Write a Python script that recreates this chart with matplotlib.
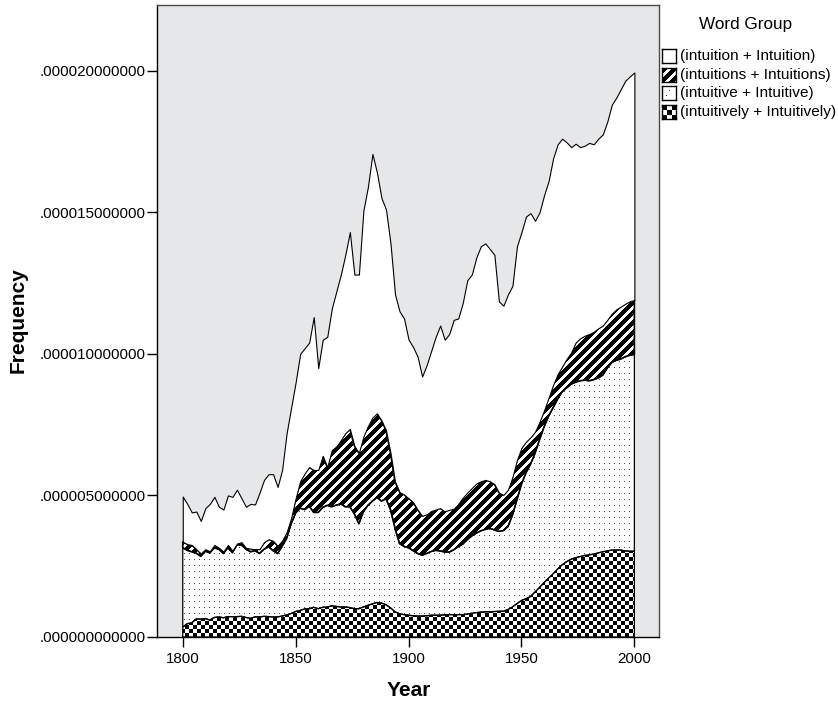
import numpy as np
import matplotlib
matplotlib.use("Agg")
import matplotlib.pyplot as plt
from matplotlib.ticker import FuncFormatter, FixedLocator

plt.rcParams['font.family'] = ['Liberation Sans', 'DejaVu Sans']

# ---- data (values in units of 1e-6) ----
years = list(range(1800, 2001, 2))

intuitively = [0.35, 0.47, 0.50, 0.64, 0.63, 0.65, 0.60, 0.69, 0.71, 0.68,
               0.72, 0.72, 0.72, 0.73, 0.69, 0.66, 0.71, 0.71, 0.73, 0.72,
               0.71, 0.71, 0.74, 0.78, 0.83, 0.90, 0.94, 0.99, 1.00, 1.05,
               1.00, 1.05, 1.06, 1.10, 1.08, 1.06, 1.06, 1.04, 1.00, 1.00,
               1.06, 1.12, 1.17, 1.22, 1.20, 1.14, 1.03, 0.89, 0.82, 0.79,
               0.77, 0.75, 0.74, 0.74, 0.75, 0.77, 0.77, 0.77, 0.78, 0.79,
               0.79, 0.79, 0.79, 0.81, 0.84, 0.86, 0.88, 0.89, 0.89, 0.90,
               0.91, 0.91, 0.97, 1.06, 1.18, 1.29, 1.35, 1.43, 1.59, 1.75,
               1.92, 2.08, 2.23, 2.40, 2.55, 2.66, 2.75, 2.80, 2.84, 2.88,
               2.90, 2.93, 2.97, 3.01, 3.04, 3.07, 3.07, 3.07, 3.04, 3.03,
               3.03]

intuitive = [2.80, 2.59, 2.51, 2.32, 2.22, 2.38, 2.37, 2.46, 2.39, 2.27,
             2.43, 2.26, 2.53, 2.52, 2.41, 2.35, 2.34, 2.24, 2.37, 2.47,
             2.34, 2.24, 2.46, 2.70, 3.17, 3.48, 3.61, 3.51, 3.62, 3.35,
             3.40, 3.53, 3.59, 3.50, 3.58, 3.64, 3.54, 3.56, 3.35, 3.00,
             3.37, 3.53, 3.63, 3.71, 3.60, 3.74, 3.47, 2.95, 2.48, 2.41,
             2.38, 2.30, 2.21, 2.15, 2.20, 2.25, 2.29, 2.27, 2.22, 2.21,
             2.29, 2.40, 2.49, 2.63, 2.73, 2.81, 2.87, 2.91, 2.95, 2.88,
             2.82, 2.85, 2.93, 3.24, 3.67, 4.11, 4.45, 4.67, 4.90, 5.22,
             5.50, 5.72, 5.87, 6.00, 6.11, 6.14, 6.18, 6.20, 6.21, 6.19,
             6.15, 6.16, 6.18, 6.24, 6.46, 6.63, 6.70, 6.75, 6.86, 6.92,
             6.95]

intuitions = [0.21, 0.22, 0.24, 0.14, 0.10, 0.07, 0.06, 0.10, 0.05, 0.07,
              0.10, 0.07, 0.05, 0.10, 0.05, 0.11, 0.05, 0.15, 0.25, 0.26,
              0.35, 0.27, 0.20, 0.22, 0.20, 0.52, 0.95, 1.28, 1.38, 1.50,
              1.50, 1.82, 1.35, 2.00, 2.07, 2.25, 2.60, 2.75, 2.40, 2.50,
              2.65, 2.80, 2.95, 2.97, 2.85, 2.42, 2.00, 1.65, 1.82, 1.83,
              1.75, 1.71, 1.55, 1.39, 1.38, 1.43, 1.44, 1.51, 1.44, 1.49,
              1.45, 1.51, 1.64, 1.66, 1.69, 1.75, 1.75, 1.75, 1.66, 1.62,
              1.37, 1.26, 1.30, 1.35, 1.40, 1.28, 1.10, 0.95, 0.76, 0.63,
              0.58, 0.65, 0.80, 0.88, 0.89, 1.02, 1.12, 1.40, 1.50, 1.57,
              1.65, 1.69, 1.75, 1.75, 1.70, 1.72, 1.80, 1.85, 1.87, 1.91,
              1.92]

intuition = [1.60, 1.42, 1.15, 1.33, 1.15, 1.45, 1.67, 1.70, 1.45, 1.48,
             1.75, 1.90, 1.90, 1.55, 1.45, 1.58, 1.58, 2.00, 2.20, 2.30,
             2.35, 2.08, 2.50, 3.50, 3.90, 4.10, 4.50, 4.42, 4.40, 5.40,
             3.60, 4.10, 4.60, 5.00, 5.47, 5.85, 6.30, 6.95, 6.05, 6.30,
             7.98, 8.45, 9.31, 8.50, 7.85, 7.80, 7.40, 6.61, 6.38, 6.22,
             5.60, 5.48, 5.40, 4.92, 5.27, 5.65, 6.10, 6.45, 6.06, 6.21,
             6.67, 6.55, 6.88, 7.50, 7.54, 7.98, 8.30, 8.35, 8.20, 8.10,
             6.75, 6.68, 6.90, 6.75, 7.55, 7.62, 7.95, 7.92, 7.45, 7.40,
             7.60, 7.65, 8.00, 8.12, 8.05, 7.65, 7.25, 7.02, 6.75, 6.71,
             6.75, 6.62, 6.70, 6.75, 7.00, 7.38, 7.48, 7.68, 7.88, 7.94,
             8.04]

labels = ["(intuition + Intuition)", "(intuitions + Intuitions)",
          "(intuitive + Intuitive)", "(intuitively + Intuitively)"]
yticks = [0, 5e-6, 10e-6, 15e-6, 20e-6]
xticks = [1800, 1850, 1900, 1950, 2000]

scale = 1e-6
yr = np.array(years)
s_ly = np.array(intuitively) * scale
s_ve = np.array(intuitive) * scale
s_ns = np.array(intuitions) * scale
s_n = np.array(intuition) * scale

# ---- figure ----
W_px, H_px = 838, 702
fig = plt.figure(figsize=(W_px / 100, H_px / 100), dpi=100)
ax_l, ax_r, ax_t, ax_b = 157, 659, 5, 637
ax = fig.add_axes([ax_l / W_px, 1 - ax_b / H_px, (ax_r - ax_l) / W_px, (ax_b - ax_t) / H_px])
ax.set_facecolor('#e6e7e9')

# ---- patterns (pixel arrays) ----
aw, ah = ax_r - ax_l, ax_b - ax_t
ii, jj = np.mgrid[0:ah, 0:aw]
checker = (((ii // 4) + (jj // 4)) % 2).astype(float)
stripes = np.where(((ii + jj) % 10) < 6, 0.0, 1.0)
dots = np.ones((ah, aw))
dots[(ii % 6 == 2) & (jj % 5 == 2)] = 0.3

polys = ax.stackplot(yr, s_ly, s_ve, s_ns, s_n,
                     colors=['none', 'none', 'none', 'white'],
                     edgecolor='black', linewidth=0.9, zorder=3)
polys[2].set_linewidth(1.2)
polys[3].set_linewidth(0.8)

for coll, pat in zip(polys[:3], [checker, dots, stripes]):
    im = ax.imshow(pat, cmap='gray', vmin=0, vmax=1, extent=[0, 1, 0, 1],
                   transform=ax.transAxes, interpolation='nearest',
                   aspect='auto', zorder=2)
    im.set_clip_path(coll.get_paths()[0], transform=ax.transData)

ax.set_xlim(1788.6, 2010.9)
ax.set_ylim(0, 22.32e-6)

ax.xaxis.set_major_locator(FixedLocator(xticks))
ax.yaxis.set_major_locator(FixedLocator(yticks))
ax.yaxis.set_major_formatter(FuncFormatter(lambda v, p: f"{v:.12f}".lstrip('0')))
ax.xaxis.set_major_formatter(FuncFormatter(lambda v, p: f"{int(round(v))}"))
ax.tick_params(axis='both', direction='out', length=7, width=1.0,
               labelsize=10.9, color='black', labelcolor='black')
ax.tick_params(axis='y', pad=1)
ax.tick_params(axis='x', pad=4)
for sp in ax.spines.values():
    sp.set_color('#4a4a4a')
    sp.set_linewidth(1.0)
ax.spines['left'].set_color('black')
ax.spines['bottom'].set_color('black')

fig.text(409 / W_px, 1 - 690 / H_px, "Year", ha='center', va='center',
         fontsize=15, fontweight='bold')
fig.text(18 / W_px, 1 - 320 / H_px, "Frequency", ha='center', va='center',
         rotation=90, fontsize=15, fontweight='bold')

# ---- legend ----
fig.text(746 / W_px, 1 - 25 / H_px, "Word Group", ha='center', va='center', fontsize=12.3)
leg_pats = [np.ones((14, 14)),
            np.where(((np.add.outer(np.arange(14), np.arange(14))) % 10) < 6, 0.0, 1.0),
            None, None]
icon = np.ones((14, 14))
icon[4, 7] = 0.2
icon[9, 4] = 0.2
leg_pats[2] = icon
bi, bj = np.mgrid[0:14, 0:14]
leg_pats[3] = (((bi // 5) + (bj // 5)) % 2).astype(float)
row_y = [56, 74.7, 93.3, 112]
for k, (lab, pat) in enumerate(zip(labels, leg_pats)):
    cy = row_y[k]
    iax = fig.add_axes([662 / W_px, 1 - (cy + 7) / H_px, 14 / W_px, 14 / H_px])
    iax.imshow(pat, cmap='gray', vmin=0, vmax=1, interpolation='nearest', aspect='auto')
    iax.set_xticks([])
    iax.set_yticks([])
    for sp in iax.spines.values():
        sp.set_color('black')
        sp.set_linewidth(1.0)
    fig.text(680 / W_px, 1 - cy / H_px, lab, ha='left', va='center', fontsize=11.1)

fig.savefig("out.png", dpi=100)
